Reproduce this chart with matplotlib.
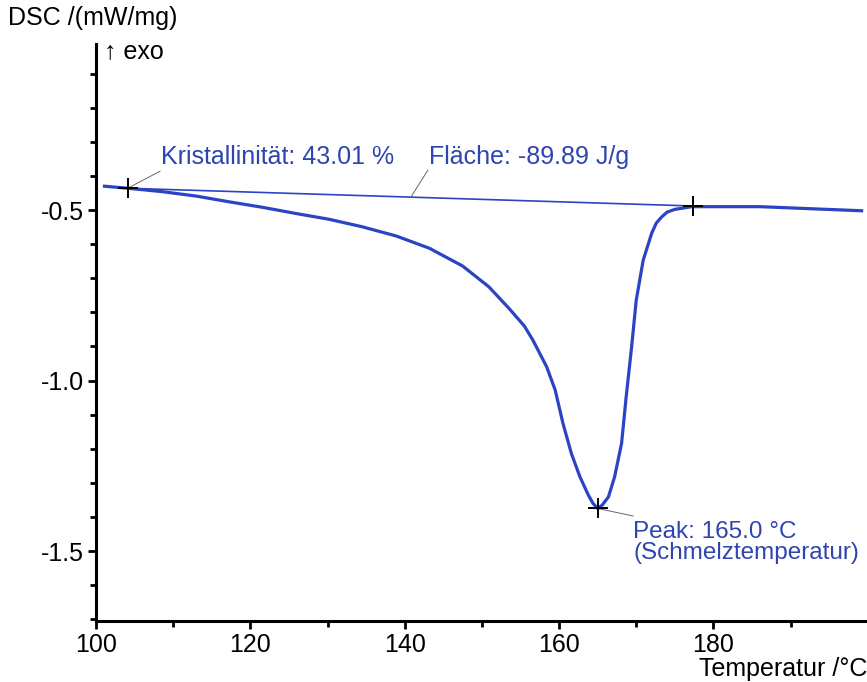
"""DSC melting curve with baseline, crystallinity and peak annotations."""
import matplotlib
matplotlib.use("Agg")
import matplotlib.pyplot as plt
from matplotlib.ticker import MultipleLocator

plt.rcParams["font.family"] = ["Liberation Sans", "DejaVu Sans"]
plt.rcParams["axes.unicode_minus"] = False

# DSC signal (Temperatur /°C, DSC /(mW/mg))
temp = [101.1, 104.1, 108.6, 113.0, 117.3, 121.6, 125.9, 130.2, 134.5, 138.9,
        143.2, 147.5, 150.9, 153.5, 155.5, 156.6, 158.4, 159.5, 160.5, 161.6,
        162.7, 163.8, 164.4, 165.0, 165.6, 166.4, 167.2, 168.1, 168.7, 169.4,
        170.0, 170.9, 172.0, 172.6, 173.3, 174.0, 175.0, 177.2, 186.0, 199.2]
dsc = [-0.430, -0.436, -0.446, -0.459, -0.476, -0.492, -0.510, -0.527, -0.549, -0.576,
       -0.612, -0.664, -0.725, -0.788, -0.840, -0.881, -0.960, -1.028, -1.125, -1.214,
       -1.282, -1.336, -1.360, -1.375, -1.365, -1.341, -1.282, -1.184, -1.047, -0.901,
       -0.764, -0.647, -0.568, -0.538, -0.520, -0.506, -0.498, -0.490, -0.490, -0.502]

# integration baseline end points and peak
base_t = [104.1, 177.3]
base_y = [-0.436, -0.488]
peak_t, peak_y = 165.0, -1.375

BLUE = "#2b44c4"
TXT = "#2e45b0"
LEAD = "#666666"
FS = 18

fig = plt.figure(figsize=(8.67, 6.82), dpi=100)
ax = fig.add_axes([96 / 867, 61 / 682, 1 - 96 / 867, (621 - 44) / 682])

ax.plot(temp, dsc, color=BLUE, lw=2.3, solid_joinstyle="round", zorder=3)
ax.plot(base_t, base_y, color=BLUE, lw=1.2, zorder=2)

ax.plot(base_t + [peak_t], base_y + [peak_y], ls="none", marker="+",
        ms=14, mew=1.4, color="black", zorder=4)

# leader lines
ax.plot([104.1, 108.3], [-0.436, -0.386], color=LEAD, lw=0.7)
ax.plot([140.8, 143.0], [-0.462, -0.383], color=LEAD, lw=0.7)
ax.plot([165.0, 169.6], [-1.375, -1.397], color=LEAD, lw=0.7)

ax.text(108.4, -0.345, "Kristallinität: 43.01 %", color=TXT, fontsize=FS, va="center")
ax.text(143.2, -0.345, "Fläche: -89.89 J/g", color=TXT, fontsize=FS, va="center")
ax.text(169.6, -1.474, "Peak: 165.0 °C\n(Schmelztemperatur)", color=TXT,
        fontsize=17.5, va="center", linespacing=0.92)

ax.set_xlim(100, 199.9)
ax.set_ylim(-1.705, -0.013)
ax.xaxis.set_major_locator(MultipleLocator(20))
ax.xaxis.set_minor_locator(MultipleLocator(10))
ax.yaxis.set_major_locator(MultipleLocator(0.5))
ax.yaxis.set_minor_locator(MultipleLocator(0.1))

for s in ("top", "right"):
    ax.spines[s].set_visible(False)
for s in ("left", "bottom"):
    ax.spines[s].set_linewidth(2.2)
ax.tick_params(which="major", length=6, width=2, labelsize=FS, pad=3)
ax.tick_params(which="minor", length=4, width=2)

fig.text(8 / 867, 1 - 18 / 682, "DSC /(mW/mg)", fontsize=FS, va="center", ha="left")
fig.text(104 / 867, 1 - 51 / 682, "↑ exo", fontsize=FS, va="center", ha="left")
fig.text(1.0, 1 - 676 / 682, "Temperatur /°C", fontsize=FS, va="baseline", ha="right")

fig.savefig("out.png", dpi=100)
